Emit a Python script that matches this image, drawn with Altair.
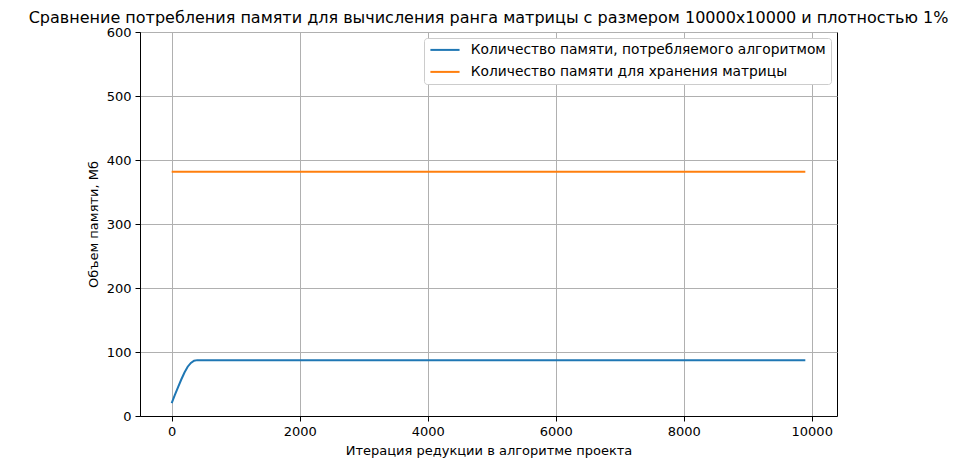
import altair as alt
import pandas as pd

# Data
algo_x = [0, 50, 100, 150, 200, 250, 300, 350, 400, 9900]
algo_y = [20, 33, 45, 57, 68, 77, 83, 86.5, 87.3, 87.3]
matrix_x = [0, 9900]
matrix_y = [381.5, 381.5]
series_names = ["Количество памяти, потребляемого алгоритмом",
                "Количество памяти для хранения матрицы"]
colors = ["#1f77b4", "#ff7f0e"]
x_ticks = [0, 2000, 4000, 6000, 8000, 10000]
y_ticks = [0, 100, 200, 300, 400, 500, 600]

rows = []
for xv, yv in zip(algo_x, algo_y):
    rows.append({"x": xv, "y": yv, "s": series_names[0]})
for xv, yv in zip(matrix_x, matrix_y):
    rows.append({"x": xv, "y": yv, "s": series_names[1]})
df = pd.DataFrame(rows)

font = "DejaVu Sans"

chart = alt.Chart(df).mark_line(strokeWidth=2).encode(
    x=alt.X("x:Q", scale=alt.Scale(domain=[-495, 10395], nice=False, zero=False),
            axis=alt.Axis(values=x_ticks, title="Итерация редукции в алгоритме проекта",
                          format="d")),
    y=alt.Y("y:Q", scale=alt.Scale(domain=[0, 600], nice=False),
            axis=alt.Axis(values=y_ticks, title="Объем памяти, Мб")),
    color=alt.Color("s:N", scale=alt.Scale(domain=series_names, range=colors),
                    legend=alt.Legend(title=None, orient="top-right", offset=6,
                                      symbolType="M-1,0H4.3", symbolStrokeWidth=2,
                                      symbolSize=121, labelFontSize=13.8, labelFont=font,
                                      fillColor="white", strokeColor="#cccccc",
                                      padding=5, cornerRadius=3, rowPadding=7,
                                      labelOffset=28, labelLimit=500)),
    order=alt.Order("x:Q"),
).properties(
    width=697,
    height=384,
    title=alt.TitleParams(
        "Сравнение потребления памяти для вычисления ранга матрицы с размером 10000x10000 и плотностью 1%",
        font=font, fontSize=16, fontWeight="normal", color="black", anchor="middle", offset=0),
    autosize=alt.AutoSizeParams(type="none"),
    padding={"left": 132, "top": 24, "right": 132, "bottom": 45},
).configure_view(
    stroke="black", strokeWidth=1
).configure_axis(
    labelFont=font, titleFont=font, labelFontSize=13, titleFontSize=13,
    titleFontWeight="normal", labelColor="black", titleColor="black",
    gridColor="#b0b0b0", gridWidth=1, domainColor="black", tickColor="black",
    tickSize=5, labelPadding=4, titlePadding=6
)

chart.save("out.html", embed_options={"renderer": "svg", "actions": False})
